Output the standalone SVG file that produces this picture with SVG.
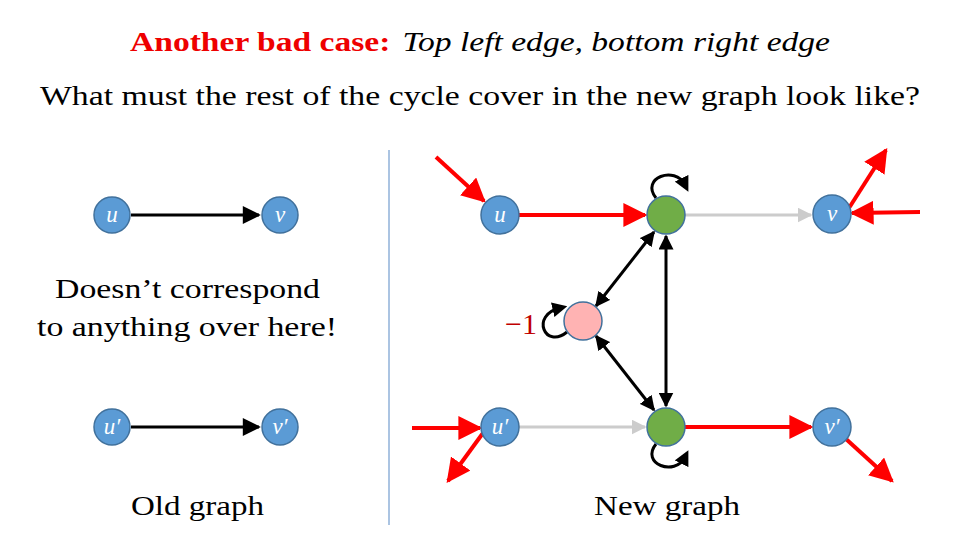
<svg xmlns="http://www.w3.org/2000/svg" width="960" height="540" viewBox="0 0 960 540">
<defs>
<marker id="ab" viewBox="0 0 10 10" refX="9" refY="5" markerWidth="5" markerHeight="5" orient="auto-start-reverse"><path d="M0,0L10,5L0,10z" fill="#000"/></marker>
<marker id="ab2" viewBox="0 0 10 10" refX="9" refY="5" markerWidth="8" markerHeight="6" orient="auto"><path d="M0,0L10,5L0,10z" fill="#000"/></marker>
<marker id="ar" viewBox="0 0 10 10" refX="9" refY="5" markerWidth="6" markerHeight="6" orient="auto"><path d="M0,0L10,5L0,10z" fill="#f00"/></marker>
<marker id="ag" viewBox="0 0 10 10" refX="9" refY="5" markerWidth="5" markerHeight="5" orient="auto"><path d="M0,0L10,5L0,10z" fill="#ccc"/></marker>
<marker id="as" viewBox="0 0 10 10" refX="5" refY="5" markerWidth="5" markerHeight="5" orient="auto"><path d="M0,0L10,5L0,10z" fill="#000"/></marker>
</defs>
<style>
.t{font-family:"Liberation Serif","DejaVu Serif",serif;}
.b{fill:#5b9bd5;stroke:#41719c;stroke-width:1.5}
.g{fill:#70ad47;stroke:#41719c;stroke-width:1.5}
.p{fill:#ffb3b3;stroke:#41719c;stroke-width:1.5}
.nl{font-family:"Liberation Serif",serif;font-style:italic;fill:#fff;font-size:23px;text-anchor:middle}
.k{stroke:#000;stroke-width:3;fill:none}
.r{stroke:#f00;stroke-width:4;fill:none;marker-end:url(#ar)}
</style>
<rect width="960" height="540" fill="#fff"/>
<text class="t" x="130" y="51" font-size="28" textLength="700" lengthAdjust="spacingAndGlyphs"><tspan fill="#e00" font-weight="bold">Another bad case:</tspan><tspan font-style="italic" dx="10">Top left edge, bottom right edge</tspan></text>
<text class="t" x="40" y="105" font-size="28" textLength="880" lengthAdjust="spacingAndGlyphs">What must the rest of the cycle cover in the new graph look like?</text>
<line x1="389" y1="150" x2="389" y2="525" stroke="#8fb0d8" stroke-width="1.5"/>
<g id="connectors">
<line class="k" x1="131" y1="215" x2="259" y2="215" marker-end="url(#ab2)"/>
<line class="k" x1="131" y1="427" x2="259" y2="427" marker-end="url(#ab2)"/>
<line class="r" x1="436" y1="157" x2="484" y2="201"/>
<line class="r" x1="519" y1="215" x2="645" y2="215"/>
<line x1="685" y1="215" x2="811" y2="215" stroke="#ccc" stroke-width="3" marker-end="url(#ag)"/>
<line class="r" x1="849" y1="208" x2="886" y2="150"/>
<line class="r" x1="920" y1="212" x2="852" y2="213"/>
<line class="r" x1="412" y1="428" x2="480" y2="428"/>
<line class="r" x1="483" y1="433" x2="448" y2="481"/>
<line x1="519" y1="427" x2="645" y2="427" stroke="#ccc" stroke-width="3" marker-end="url(#ag)"/>
<line class="r" x1="685" y1="427" x2="811" y2="427"/>
<line class="r" x1="846" y1="439" x2="892" y2="481"/>
<line class="k" x1="596" y1="306" x2="654" y2="232" marker-start="url(#ab)" marker-end="url(#ab)"/>
<line class="k" x1="596" y1="336" x2="654" y2="410" marker-start="url(#ab)" marker-end="url(#ab)"/>
<line class="k" x1="666" y1="236" x2="666" y2="406" marker-start="url(#ab)" marker-end="url(#ab)"/>
<path class="k" d="M656,198 C640,178 675,165 685,185" marker-end="url(#as)"/>
<path class="k" d="M656,444 C640,464 675,477 685,457" marker-end="url(#as)"/>
<path class="k" d="M567,332 C545,350 530,315 560,308" marker-end="url(#as)"/>
</g>
<g id="u"><circle class="b" cx="112" cy="215" r="18"/><text class="nl" x="112" y="222">u</text></g>
<g id="v"><circle class="b" cx="280" cy="215" r="18"/><text class="nl" x="280" y="222">v</text></g>
<g id="u2"><circle class="b" cx="112" cy="427" r="18"/><text class="nl" x="112" y="434">u′</text></g>
<g id="v2"><circle class="b" cx="280" cy="427" r="18"/><text class="nl" x="280" y="434">v′</text></g>
<g id="nu"><circle class="b" cx="500" cy="215" r="19"/><text class="nl" x="500" y="222">u</text></g>
<g id="g1"><circle class="g" cx="666" cy="215" r="19"/></g>
<g id="nv"><circle class="b" cx="832" cy="214" r="19"/><text class="nl" x="832" y="221">v</text></g>
<g id="pk"><circle class="p" cx="583" cy="321" r="19"/><text class="t" x="537" y="334" font-size="30" fill="#c00000" text-anchor="end">−1</text></g>
<g id="nu2"><circle class="b" cx="500" cy="427" r="19"/><text class="nl" x="500" y="434">u′</text></g>
<g id="g2"><circle class="g" cx="666" cy="427" r="19"/></g>
<g id="nv2"><circle class="b" cx="832" cy="427" r="19"/><text class="nl" x="832" y="434">v′</text></g>
<text class="t" x="55" y="298" font-size="28" textLength="265" lengthAdjust="spacingAndGlyphs">Doesn’t correspond</text>
<text class="t" x="37" y="336" font-size="28" textLength="300" lengthAdjust="spacingAndGlyphs">to anything over here!</text>
<text class="t" x="131" y="515" font-size="28" textLength="133" lengthAdjust="spacingAndGlyphs">Old graph</text>
<text class="t" x="594" y="515" font-size="28" textLength="146" lengthAdjust="spacingAndGlyphs">New graph</text>
</svg>
